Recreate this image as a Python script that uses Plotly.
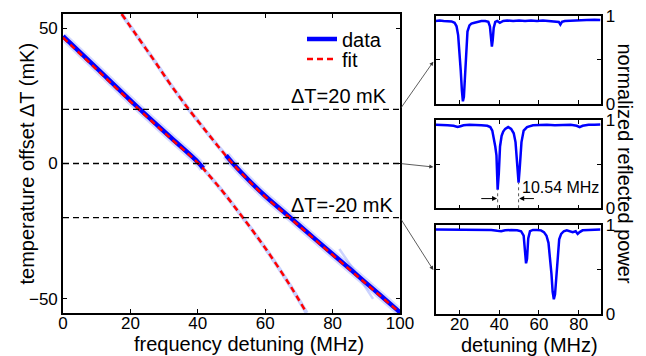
import plotly.graph_objects as go

FONT = "Liberation Sans, Arial, Helvetica, sans-serif"
W, H = 646, 356

# ---------------- main panel data ----------------
# fit branches (frequency detuning MHz, temperature offset mK)
fit_left_x = [0, 10, 22.3, 32, 40.2, 44, 48, 53.5, 60, 67.4, 72.3]
fit_left_y = [46.5, 34.7, 20.2, 9.2, 0, -5.3, -11.3, -20.2, -31.2, -45.1, -55.2]
fit_right_x = [17.4, 22, 27.3, 32, 37.2, 42, 46, 50.3, 55, 60, 67.4, 75, 85, 92, 99.5]
fit_right_y = [55.2, 47, 37.6, 29, 20.2, 12.6, 6.4, 0, -6.2, -12.3, -20.2, -28.4, -39.1, -46.6, -54.6]

# measured resonance traces (strong and faint parts of the map)
data_strong1_x = [0, 10, 22.3, 32, 40.2, 41.6]
data_strong1_y = [47.0, 35.2, 20.6, 9.6, 0.3, -1.8]
data_faint1_x = [41.0, 44, 48, 53.5, 60, 67.4, 72.3]
data_faint1_y = [-1.0, -5.3, -11.3, -20.2, -31.2, -45.1, -55.2]
data_faint2_x = [17.4, 22, 27.3, 32, 37.2, 42, 46, 49.0]
data_faint2_y = [55.2, 47, 37.6, 29, 20.2, 12.6, 6.4, 2.2]
data_strong2_x = [48.4, 50.3, 55, 60, 67.4, 75, 85, 92, 99.5, 100.5]
data_strong2_y = [3.0, 0.2, -6.0, -12.0, -19.9, -28.1, -38.8, -46.3, -54.4, -55.5]
ghost_x = [82, 87, 92]
ghost_y = [-31.6, -40.5, -50]

ref_levels = [20, 0, -20]
ref_labels = ["ΔT=20 mK", "ΔT=0 mK", "ΔT=-20 mK"]

main_xticks = [0, 20, 40, 60, 80, 100]
main_yticks = [-50, 0, 50]

# ---------------- right panels: reflection spectra ----------------
p1_x = [8, 10, 12, 14, 16, 17.5, 18.5, 19.3, 20, 20.6, 21.2, 21.7, 22.2, 22.7, 23.3, 24, 25, 26,
        27.5, 29, 31, 33, 34.5, 35.3, 35.9, 36.3, 36.7, 37.2, 38, 39, 40.3, 41, 42, 44, 47, 50, 53,
        56, 59, 62, 65, 68, 70, 70.8, 71.6, 73, 76, 80, 84, 88, 91]
p1_y = [.94, .945, .94, .94, .935, .92, .88, .78, .6, .38, .15, .03, .08, .3, .62, .82, .89, .91,
        .92, .93, .94, .94, .93, .88, .75, .65, .72, .86, .93, .94, .92, .93, .94, .945, .94, .945, .94,
        .945, .94, .945, .94, .94, .93, .9, .93, .94, .945, .95, .95, .955, .95]

p2_x = [8, 11, 14, 17, 19, 20.5, 22, 25, 28, 31, 34, 35.5, 36.5, 37.3, 38, 38.6, 39.2, 39.8, 40.4,
        41.2, 42, 43, 44.5, 46, 47.3, 48.2, 48.9, 49.4, 49.74, 50.3, 51.2, 52.3, 54, 57, 60, 64, 68,
        72, 76, 79, 80.5, 82, 85, 88, 91]
p2_y = [.945, .945, .94, .935, .92, .93, .94, .945, .945, .94, .935, .92, .88, .8, .7, .6, .21, .4, .7,
        .82, .87, .9, .92, .9, .85, .75, .55, .38, .29, .45, .75, .88, .92, .94, .945, .945, .94,
        .945, .945, .935, .92, .935, .945, .945, .95]

p3_x = [8, 11, 14, 17, 20, 24, 28, 32, 36, 39, 41, 43, 46, 49, 51, 52.3, 53, 53.5, 54, 54.6, 55.5,
        57, 59, 61, 62.5, 63.8, 64.8, 65.6, 66.3, 66.9, 67.5, 68.1, 68.7, 69.4, 70.2, 71.2, 72.5, 74,
        75.5, 77, 78.5, 79.5, 80.5, 82, 85, 88, 91]
p3_y = [.95, .95, .945, .95, .95, .945, .95, .945, .945, .935, .93, .94, .945, .94, .93, .88, .72, .57,
        .62, .85, .93, .945, .945, .94, .92, .88, .8, .65, .45, .25, .165, .22, .42, .68, .84, .9, .93,
        .94, .93, .92, .93, .9, .92, .94, .945, .95, .95]

panel_xticks = [20, 40, 60, 80]
panel_yticks = [0, 0.5, 1]
panel_yticktext = ["0", "", "1"]

# splitting measured in middle panel
dip_a_x, dip_a_y = 39.2, 0.21
dip_b_x, dip_b_y = 49.74, 0.29
split_label = "10.54 MHz"

# ---------------- layout geometry (pixels -> paper) ----------------
def px(x):
    return x / W

def py(y):
    return 1 - y / H

main_dom_x = [px(63), px(400)]
main_dom_y = [py(313), py(14)]
pan_dom_x = [px(435.7), px(600.5)]
pan_dom_y = [[py(104), py(15.7)], [py(208.3), py(120)], [py(314), py(225)]]

fig = go.Figure()

BLUE = "#0000ff"
HALO = "rgba(70,90,255,0.22)"
FAINT = "rgba(120,140,255,0.40)"

# faint parts
for xs, ys in [(data_faint1_x, data_faint1_y), (data_faint2_x, data_faint2_y)]:
    fig.add_trace(go.Scatter(x=xs, y=ys, mode="lines", line=dict(color=FAINT, width=4, shape="spline"),
                             showlegend=False, legendgroup="data", hoverinfo="skip"))
fig.add_trace(go.Scatter(x=ghost_x, y=ghost_y, mode="lines",
                         line=dict(color="rgba(110,130,255,0.35)", width=2.5),
                         showlegend=False, hoverinfo="skip"))
# halos
for xs, ys in [(data_strong1_x, data_strong1_y), (data_strong2_x, data_strong2_y)]:
    fig.add_trace(go.Scatter(x=xs, y=ys, mode="lines", line=dict(color=HALO, width=8.5, shape="spline"),
                             showlegend=False, legendgroup="data", hoverinfo="skip"))
# cores
fig.add_trace(go.Scatter(x=data_strong1_x, y=data_strong1_y, mode="lines", name="data",
                         line=dict(color=BLUE, width=4.5, shape="spline"), legendgroup="data"))
fig.add_trace(go.Scatter(x=data_strong2_x, y=data_strong2_y, mode="lines", name="data",
                         line=dict(color=BLUE, width=4.5, shape="spline"), legendgroup="data",
                         showlegend=False))
# fits
fig.add_trace(go.Scatter(x=fit_left_x, y=fit_left_y, mode="lines", name="fit",
                         line=dict(color="#ff0000", width=2.5, dash="6px,4px", shape="spline"),
                         legendgroup="fit", legend="legend2"))
fig.add_trace(go.Scatter(x=fit_right_x, y=fit_right_y, mode="lines", name="fit",
                         line=dict(color="#ff0000", width=2.5, dash="6px,4px", shape="spline"),
                         legendgroup="fit", showlegend=False, legend="legend2"))

# reference dashed levels
for lvl in ref_levels:
    fig.add_shape(type="line", xref="x domain", yref="y", x0=0, x1=1, y0=lvl, y1=lvl,
                  line=dict(color="black", width=1.3, dash="6px,4px"))

# spectra
for i, (xs, ys) in enumerate([(p1_x, p1_y), (p2_x, p2_y), (p3_x, p3_y)]):
    k = i + 2
    fig.add_trace(go.Scatter(x=xs, y=ys, mode="lines", xaxis=f"x{k}", yaxis=f"y{k}",
                             line=dict(color=BLUE, width=2.5), showlegend=False))

axis_common = dict(showgrid=False, zeroline=False, showline=True, linecolor="black",
                   mirror="ticks", ticks="inside", tickcolor="black", ticklen=4, tickwidth=1,
                   tickfont=dict(family=FONT, size=17, color="black"), automargin=False)

legend_common = dict(xanchor="left", yanchor="middle", bgcolor="rgba(0,0,0,0)",
                     font=dict(family=FONT, size=20, color="black"), itemwidth=30)

fig.update_layout(
    width=W, height=H, margin=dict(l=0, r=0, t=0, b=0, pad=0),
    paper_bgcolor="white", plot_bgcolor="white",
    font=dict(family=FONT, color="black"),
    showlegend=True,
    legend=dict(x=px(302), y=py(39), **legend_common),
    legend2=dict(x=px(302), y=py(59), **legend_common),
    xaxis=dict(domain=main_dom_x, range=[0, 100], tickvals=main_xticks, linewidth=1.6,
               anchor="y", ticklabelstandoff=-6, **axis_common),
    yaxis=dict(domain=main_dom_y, range=[-55.2, 55.2], tickvals=main_yticks, linewidth=1.6,
               anchor="x", **axis_common),
)
for i in range(3):
    k = i + 2
    fig.update_layout({
        f"xaxis{k}": dict(domain=pan_dom_x, range=[8, 91], tickvals=panel_xticks,
                          showticklabels=(k == 4), anchor=f"y{k}", linewidth=1.6,
                          ticklabelstandoff=-6, **axis_common),
        f"yaxis{k}": dict(domain=pan_dom_y[i], range=[0, 1], tickvals=panel_yticks,
                          ticktext=panel_yticktext, side="right", anchor=f"x{k}", linewidth=1.6,
                          **axis_common),
    })

C = dict(xanchor="center", yanchor="middle", showarrow=False)
ann = []
# axis titles
ann.append(dict(text="frequency detuning (MHz)", xref="paper", yref="paper",
                x=px(249), y=py(344), font=dict(size=20), **C))
ann.append(dict(text="temperature offset ΔT (mK)", xref="paper", yref="paper",
                x=px(26), y=py(163.5), textangle=-90, font=dict(size=20), **C))
ann.append(dict(text="detuning (MHz)", xref="paper", yref="paper",
                x=px(529), y=py(345), font=dict(size=20), **C))
ann.append(dict(text="normalized reflected power", xref="paper", yref="paper",
                x=px(625), y=py(163.5), textangle=90, font=dict(size=20), **C))
# level labels
ann.append(dict(text=ref_labels[0], xref="x", yref="y", x=96.6, y=ref_levels[0],
                xanchor="right", yanchor="bottom", showarrow=False, font=dict(size=20)))
ann.append(dict(text=ref_labels[2], xref="x", yref="y", x=98.6, y=ref_levels[2],
                xanchor="right", yanchor="bottom", showarrow=False, font=dict(size=20)))
# arrows from levels to panels
heads = [(433.3, 61.7), (433.3, 167), (433.3, 270)]
tails = [(400, 109.3), (400, 163.5), (400, 217.7)]
for (hx, hy), (tx, ty) in zip(heads, tails):
    ann.append(dict(text="", xref="paper", yref="paper", x=px(hx), y=py(hy),
                    ax=tx - hx, ay=ty - hy, axref="pixel", ayref="pixel", showarrow=True,
                    arrowhead=2, arrowsize=1, arrowwidth=0.8, arrowcolor="#333333"))
# splitting annotation in middle panel
ann.append(dict(text="", xref="x3", yref="y3", x=dip_a_x - 0.3, y=0.11, ax=dip_a_x - 9, ay=0.11,
                axref="x3", ayref="y3", showarrow=True, arrowhead=2, arrowsize=1, arrowwidth=1,
                arrowcolor="black"))
ann.append(dict(text="", xref="x3", yref="y3", x=dip_b_x + 0.3, y=0.11, ax=dip_b_x + 8.5, ay=0.11,
                axref="x3", ayref="y3", showarrow=True, arrowhead=2, arrowsize=1, arrowwidth=1,
                arrowcolor="black"))
ann.append(dict(text=split_label, xref="x3", yref="y3", x=dip_b_x + 0.9, y=0.23,
                xanchor="left", yanchor="middle", showarrow=False, font=dict(size=16)))
fig.update_layout(annotations=ann)

for dx, dy in [(dip_a_x, dip_a_y), (dip_b_x, dip_b_y)]:
    fig.add_shape(type="line", xref="x3", yref="y3", x0=dx, x1=dx, y0=0, y1=dy,
                  line=dict(color="#555555", width=1, dash="dot"))

fig.write_html("out.html", config={"displayModeBar": False},
               post_script="document.body.style.margin='0px';")
